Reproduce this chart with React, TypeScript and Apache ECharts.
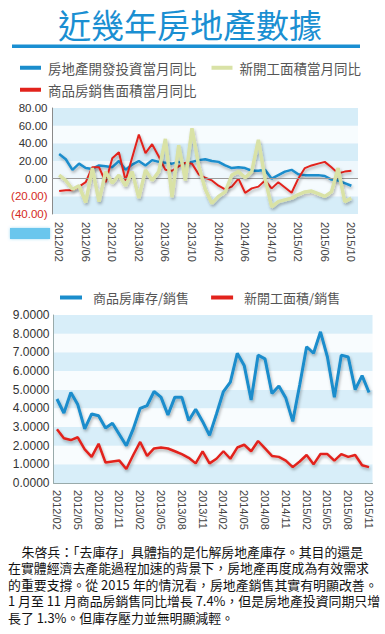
import React, { useEffect, useRef } from "react";
import * as echarts from "echarts";

// ---------- Data ----------
const chartTitle = "近幾年房地產數據";

const topSeriesNames = ["房地產開發投資當月同比", "新開工面積當月同比", "商品房銷售面積當月同比"];

const topMonths = [
  "2012/02", "2012/03", "2012/04", "2012/05", "2012/06", "2012/07", "2012/08", "2012/09", "2012/10", "2012/11", "2012/12",
  "2013/01", "2013/02", "2013/03", "2013/04", "2013/05", "2013/06", "2013/07", "2013/08", "2013/09", "2013/10", "2013/11", "2013/12",
  "2014/01", "2014/02", "2014/03", "2014/04", "2014/05", "2014/06", "2014/07", "2014/08", "2014/09", "2014/10", "2014/11", "2014/12",
  "2015/01", "2015/02", "2015/03", "2015/04", "2015/05", "2015/06", "2015/07", "2015/08", "2015/09", "2015/10",
];
// empty months shown on the axis before and after the data
const topPadStart = "2012/01";
const topPadEnd = "2015/11";

const topTickLabels = [
  "2012/02", "2012/06", "2012/10", "2013/02", "2013/06", "2013/10",
  "2014/02", "2014/06", "2014/10", "2015/02", "2015/06", "2015/10",
];

const investYoY = [
  28, 22, 10, 17, 12, 11, 15, 14, 13, 20, 10,
  16, 20, 15, 21, 19, 18, 17, 19, 17, 19, 21, 22,
  20, 19, 15, 12, 13, 12, 9, 9, 10, 0, 4, 8,
  10, 5, 4, 4, 4, 3, -1, -2, -5, -8,
];

const newStartYoY = [
  4, -2, -12, -8, -27, 12, -26, 8, -5, 4, -8,
  8, -22, 10, -2, 8, 45, -21, 38, -2, 57, 15, -12,
  -28, -20, -15, 4, 8, 1, 8, 44, 0, -32, -26, -24,
  -22, -18, -15, -14, -17, -20, -15, 12, -26, -22,
];

const salesAreaYoY = [
  -14, -13, -13, -9, -4, 13, 13, -4, 23, 30, -2,
  24, 50, 29, 39, 25, 10, 9, 14, 18, 17, 5, 1,
  -2, -8, -12, -9, 0, -16, -11, -9, -2, -11, -4, -10,
  -16, 0, 12, 15, 17, 19, 13, 6, 8, 9,
];

const topYTicks = { min: -40, max: 80, step: 20 };

const bottomSeriesNames = ["商品房庫存/銷售", "新開工面積/銷售"];

const bottomMonths = [
  "2012/02", "2012/03", "2012/04", "2012/05", "2012/06", "2012/07", "2012/08", "2012/09", "2012/10", "2012/11", "2012/12",
  "2013/01", "2013/02", "2013/03", "2013/04", "2013/05", "2013/06", "2013/07", "2013/08", "2013/09", "2013/10", "2013/11", "2013/12",
  "2014/01", "2014/02", "2014/03", "2014/04", "2014/05", "2014/06", "2014/07", "2014/08", "2014/09", "2014/10", "2014/11", "2014/12",
  "2015/01", "2015/02", "2015/03", "2015/04", "2015/05", "2015/06", "2015/07", "2015/08", "2015/09", "2015/10", "2015/11",
];

const inventoryToSales = [
  4.5, 3.75, 4.85, 4.2, 2.9, 3.7, 3.6, 2.95, 3.2, 2.6, 2.0,
  2.9, 4.0, 4.15, 4.9, 4.6, 3.65, 4.6, 4.6, 3.35, 3.95, 3.3, 2.55,
  3.7, 4.9, 5.4, 6.95, 6.3, 4.45, 6.85, 6.65, 4.8, 5.2, 4.55, 3.3,
  5.25, 7.3, 6.95, 8.1, 6.75, 4.6, 6.85, 6.75, 5.0, 5.75, 4.85,
];

const newStartToSales = [
  2.88, 2.4, 2.3, 2.45, 1.8, 1.4, 2.1, 1.1, 1.15, 1.2, 0.75,
  1.5, 2.2, 1.45, 1.85, 1.9, 1.85, 1.7, 1.55, 1.35, 1.05, 1.7, 1.05,
  1.3, 1.7, 1.3, 1.9, 2.05, 1.7, 2.25, 1.85, 1.45, 1.4, 1.2, 0.85,
  1.15, 1.5, 1.0, 1.55, 1.55, 1.2, 1.55, 1.4, 1.5, 0.95, 0.85,
];

const bottomYTicks = { min: 0, max: 9, step: 1 };

const paragraphLines = [
  "朱啓兵：「去庫存」具體指的是化解房地產庫存。其目的還是",
  "在實體經濟去產能過程加速的背景下，房地產再度成為有效需求",
  "的重要支撐。從 2015 年的情況看，房地產銷售其實有明顯改善。",
  "1 月至 11 月商品房銷售同比增長 7.4%，但是房地產投資同期只增",
  "長了 1.3%。但庫存壓力並無明顯減輕。",
];

// ---------- Styles ----------
const FONT_CJK = '"Noto Sans CJK TC", "Noto Sans CJK SC", sans-serif';
const FONT_NUM = '"Liberation Sans", Arial, sans-serif';
const BLUE = "#1a8dcc";
const RED = "#e2231c";
const GREEN = "#d9e2a6";
const TITLE_BLUE = "#1a8fd2";

const lineShadow = {
  shadowColor: "rgba(0,0,0,0.3)",
  shadowBlur: 3,
  shadowOffsetX: 1,
  shadowOffsetY: 2,
};

const pad = (arr: number[]) => [null, ...arr, null];

export default function App() {
  const ref = useRef<HTMLDivElement>(null);

  useEffect(() => {
    document.body.style.margin = "0";
    if (!ref.current) return;
    const chart = echarts.init(ref.current, undefined, { renderer: "svg" });

    const topCategories = [topPadStart, ...topMonths, topPadEnd];

    const option: any = {
      animation: false,
      backgroundColor: "#ffffff",
      title: {
        text: chartTitle,
        left: 53,
        top: 2,
        textStyle: { fontSize: 33, color: TITLE_BLUE, fontWeight: "normal", fontFamily: FONT_CJK },
      },
      legend: [
        {
          left: 20,
          top: 61,
          padding: 0,
          icon: "rect",
          itemWidth: 21,
          itemHeight: 4,
          itemGap: 15,
          data: [topSeriesNames[0], topSeriesNames[1]],
          textStyle: { fontSize: 13.5, color: "#555", fontFamily: FONT_CJK, padding: [0, 0, 0, 2] },
        },
        {
          left: 20,
          top: 83,
          padding: 0,
          icon: "rect",
          itemWidth: 21,
          itemHeight: 4,
          data: [topSeriesNames[2]],
          textStyle: { fontSize: 13.5, color: "#555", fontFamily: FONT_CJK, padding: [0, 0, 0, 2] },
        },
        {
          left: 60,
          top: 291,
          padding: 0,
          icon: "rect",
          itemWidth: 22,
          itemHeight: 4,
          itemGap: 22,
          data: bottomSeriesNames,
          textStyle: { fontSize: 13, color: "#555", fontFamily: FONT_CJK, padding: [0, 0, 0, 6] },
        },
      ],
      grid: [
        { left: 52.5, top: 108, width: 305.5, height: 106 },
        { left: 53.5, top: 315, width: 319, height: 168 },
      ],
      xAxis: [
        {
          gridIndex: 0,
          type: "category",
          data: topCategories,
          boundaryGap: false,
          axisLine: { show: false },
          axisTick: { show: false },
          splitLine: { show: false },
          axisLabel: {
            interval: (_i: number, v: string) => topTickLabels.includes(v),
            rotate: -90,
            margin: 8,
            fontSize: 11,
            color: "#444",
            fontFamily: FONT_NUM,
          },
        },
        {
          gridIndex: 1,
          type: "category",
          data: bottomMonths,
          boundaryGap: true,
          axisLine: { show: true, lineStyle: { color: "#9aa", width: 1 } },
          axisTick: { show: false },
          splitLine: { show: false },
          axisLabel: {
            interval: 2,
            rotate: -90,
            margin: 7,
            fontSize: 11,
            color: "#444",
            fontFamily: FONT_NUM,
          },
        },
      ],
      yAxis: [
        {
          gridIndex: 0,
          type: "value",
          min: topYTicks.min,
          max: topYTicks.max,
          interval: topYTicks.step,
          axisLine: { show: true, lineStyle: { color: "#8a8a8a", width: 1 } },
          axisTick: { show: false },
          splitLine: { show: false },
          splitArea: {
            show: true,
            areaStyle: {
              color: ["#d6edf8", "#f5fbfe", "#eef7fc", "#d6edf8", "#f7fcfe", "#d6edf8"],
            },
          },
          axisLabel: {
            margin: 5,
            fontSize: 11.5,
            fontFamily: FONT_NUM,
            formatter: (v: number) => (v < 0 ? `(${Math.abs(v).toFixed(2)})` : v.toFixed(2)),
            color: (v: any) => (Number(v) < 0 ? "#d42a22" : "#333"),
          },
        },
        {
          gridIndex: 1,
          type: "value",
          min: bottomYTicks.min,
          max: bottomYTicks.max,
          interval: bottomYTicks.step,
          axisLine: { show: true, lineStyle: { color: "#9aa", width: 1 } },
          axisTick: { show: false },
          splitLine: { show: false },
          splitArea: {
            show: true,
            areaStyle: { color: ["#d8eef9", "#f8fcfe"] },
          },
          axisLabel: {
            margin: 4,
            fontSize: 12,
            fontFamily: FONT_NUM,
            color: "#333",
            formatter: (v: number) => v.toFixed(4),
          },
        },
      ],
      series: [
        {
          name: topSeriesNames[0],
          type: "line",
          xAxisIndex: 0,
          yAxisIndex: 0,
          data: pad(investYoY),
          showSymbol: false,
          color: BLUE,
          lineStyle: { color: BLUE, width: 2.5, ...lineShadow },
          z: 3,
          markLine: {
            silent: true,
            symbol: "none",
            label: { show: false },
            lineStyle: { color: "#9a9a9a", width: 1, type: "solid", shadowBlur: 0 },
            data: [{ yAxis: 0 }],
          },
        },
        {
          name: topSeriesNames[2],
          type: "line",
          xAxisIndex: 0,
          yAxisIndex: 0,
          data: pad(salesAreaYoY),
          showSymbol: false,
          color: RED,
          lineStyle: { color: RED, width: 2, ...lineShadow },
          z: 4,
        },
        {
          name: topSeriesNames[1],
          type: "line",
          xAxisIndex: 0,
          yAxisIndex: 0,
          data: pad(newStartYoY),
          showSymbol: false,
          color: GREEN,
          lineStyle: { color: GREEN, width: 3.5, ...lineShadow },
          z: 5,
        },
        {
          name: bottomSeriesNames[0],
          type: "line",
          xAxisIndex: 1,
          yAxisIndex: 1,
          data: inventoryToSales,
          showSymbol: false,
          color: BLUE,
          lineStyle: { color: BLUE, width: 3, ...lineShadow },
        },
        {
          name: bottomSeriesNames[1],
          type: "line",
          xAxisIndex: 1,
          yAxisIndex: 1,
          data: newStartToSales,
          showSymbol: false,
          color: RED,
          lineStyle: { color: RED, width: 2.5, ...lineShadow },
        },
      ],
      graphic: [
        {
          type: "rect",
          shape: { x: 12, y: 44.5, width: 348, height: 3.5 },
          style: { fill: TITLE_BLUE },
        },
        {
          type: "rect",
          shape: { x: 10, y: 228, width: 40, height: 11 },
          style: { fill: "#6ac6ed", shadowBlur: 3, shadowColor: "rgba(102,196,236,0.6)" },
        },
      ],
    };

    chart.setOption(option);
    return () => chart.dispose();
  }, []);

  return (
    <div style={{ position: "relative", width: 385, height: 634, background: "#fff", overflow: "hidden" }}>
      <div ref={ref} style={{ position: "absolute", left: 0, top: 0, width: 385, height: 634 }} />
      <div
        style={{
          position: "absolute",
          left: 8,
          top: 543.5,
          width: 372,
          fontFamily: FONT_CJK,
          fontSize: 12.9,
          lineHeight: "16.6px",
          color: "#111",
          whiteSpace: "pre",
          textIndent: 13.5,
        }}
      >
        {paragraphLines.join("\n")}
      </div>
    </div>
  );
}
